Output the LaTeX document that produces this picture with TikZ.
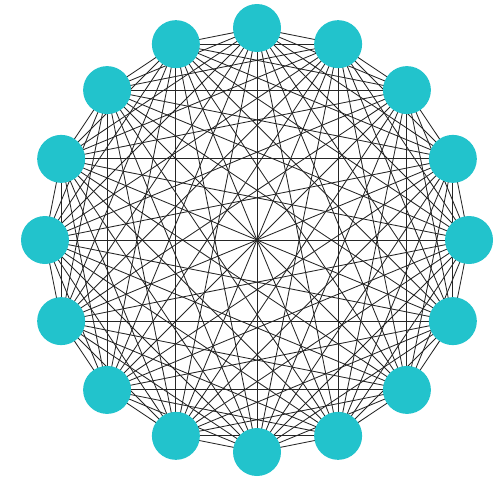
\documentclass[tikz,border=0pt]{standalone}
\definecolor{nodecyan}{HTML}{22C3CC}
\tikzset{
  vertex/.style={circle, fill=nodecyan, draw=none, minimum size=48pt, inner sep=0pt},
  edge/.style={draw=black!85, line width=0.85pt}
}
\begin{document}
\begin{tikzpicture}[x=1pt,y=-1pt]
\useasboundingbox (0,0) rectangle (498,479);
\foreach \i in {0,...,15}{
  \coordinate (p\i) at ({257+212*sin(22.5*\i)},{240-212*cos(22.5*\i)});
}
\foreach \i in {0,...,14}{
  \pgfmathtruncatemacro{\s}{\i+1}
  \foreach \j in {\s,...,15}{
    \draw[edge] (p\i) -- (p\j);
  }
}
\foreach \i in {0,...,15}{
  \node[vertex] (v\i) at (p\i) {};
}
\end{tikzpicture}
\end{document}
